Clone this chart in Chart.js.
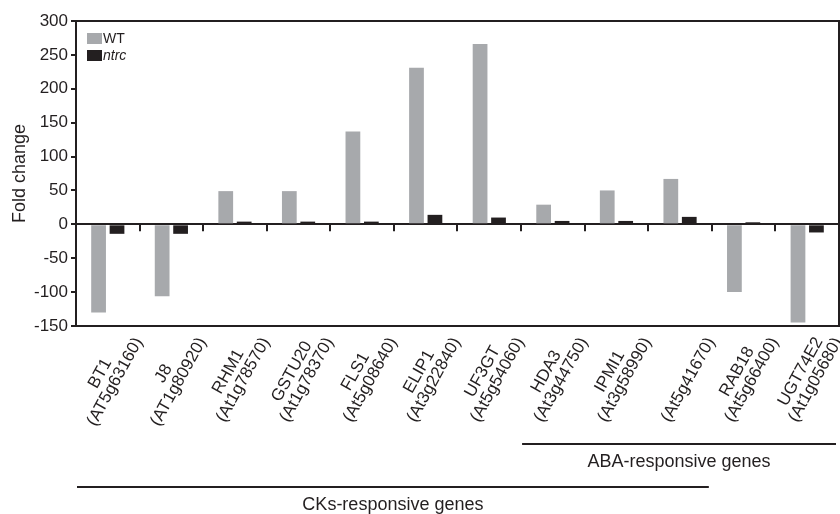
<!DOCTYPE html>
<html>
<head>
<meta charset="utf-8">
<script src="https://cdn.jsdelivr.net/npm/chart.js@4.4.1/dist/chart.umd.min.js"></script>
<style>
  html, body { margin: 0; padding: 0; background: #fff; }
  #wrap { width: 840px; height: 514px; }
</style>
</head>
<body>
<div id="wrap"><canvas id="myChart"></canvas></div>
<script>
var geneNames = ["BT1", "J8", "RHM1", "GSTU20", "FLS1", "ELIP1", "UF3GT", "HDA3", "IPMI1", "", "RAB18", "UGT74E2"];
var geneIds = ["(AT5g63160)", "(AT1g80920)", "(At1g78570)", "(At1g78370)", "(At5g08640)", "(At3g22840)",
               "(At5g54060)", "(At3g44750)", "(At3g58990)", "(At5g41670)", "(At5g66400)", "(At1g05680)"];
var wtValues = [-130, -106, 49, 49, 137, 231, 266, 29, 50, 67, -100, -145];
var ntrcValues = [-14, -14, 4, 4, 4, 14, 10, 5, 5, 11, 3, -12];
var seriesNames = ["WT", "ntrc"];
var groupNames = ["ABA-responsive genes", "CKs-responsive genes"];
var groupFrom = [7, 0];
var groupTo = [11, 9];

var dark = "#231f20";
var gray = "#a7a9ac";
var fam = "'Liberation Sans', Arial, sans-serif";
Chart.defaults.font.family = fam;
Chart.defaults.color = dark;

// frame, zero-line ticks, legend, rotated gene labels and group brackets
var extras = {
  id: "extras",
  afterDraw: function (chart) {
    var ctx = chart.ctx, a = chart.chartArea;
    var x = chart.scales.x, y = chart.scales.y;
    var n = chart.data.labels.length;
    var step = x.getPixelForValue(1) - x.getPixelForValue(0);
    ctx.save();
    ctx.strokeStyle = dark;
    ctx.lineWidth = 2;
    ctx.strokeRect(a.left, a.top, a.right - a.left, a.bottom - a.top);

    var y0 = y.getPixelForValue(0);
    ctx.beginPath();
    for (var i = 1; i < n; i++) {
      var bx = Math.round(x.getPixelForValue(i) - step / 2);
      ctx.moveTo(bx, y0);
      ctx.lineTo(bx, y0 + 7);
    }
    ctx.stroke();

    // legend
    chart.data.datasets.forEach(function (ds, k) {
      var ly = a.top + 12 + k * 17;
      ctx.fillStyle = ds.backgroundColor;
      ctx.fillRect(a.left + 11, ly, 15, 11);
      ctx.fillStyle = dark;
      ctx.font = (k === 1 ? "italic " : "") + "14px " + fam;
      ctx.textAlign = "left";
      ctx.textBaseline = "middle";
      ctx.fillText(ds.label, a.left + 27, ly + 6);
    });

    // gene labels
    ctx.font = "17px " + fam;
    ctx.textBaseline = "middle";
    for (var j = 0; j < n; j++) {
      var lab = chart.data.labels[j];
      var cx = x.getPixelForValue(j);
      ctx.save();
      ctx.translate(cx + 31, a.bottom + 13);
      ctx.rotate(-61 * Math.PI / 180);
      var w2 = ctx.measureText(lab[1]).width;
      ctx.textAlign = "right";
      ctx.fillText(lab[1], 0, 0);
      ctx.textAlign = "center";
      ctx.fillText(lab[0], -w2 / 2, -17);
      ctx.restore();
    }

    // group brackets
    var offs = [118, 161];
    ctx.font = "18px " + fam;
    ctx.textAlign = "center";
    for (var g = 0; g < groupNames.length; g++) {
      var x1 = x.getPixelForValue(groupFrom[g]) - step / 2 + 1;
      var x2 = x.getPixelForValue(groupTo[g]) + step / 2 - 3;
      var gy = a.bottom + offs[g];
      ctx.beginPath();
      ctx.moveTo(x1, gy);
      ctx.lineTo(x2, gy);
      ctx.stroke();
      ctx.fillText(groupNames[g], (x1 + x2) / 2, gy + 18);
    }
    ctx.restore();
  }
};

new Chart("myChart", {
  type: "bar",
  data: {
    labels: geneNames.map(function (nm, i) { return [nm, geneIds[i]]; }),
    datasets: [{
      label: seriesNames[0],
      data: wtValues,
      backgroundColor: gray,
      categoryPercentage: 0.58,
      barPercentage: 0.8
    }, {
      label: seriesNames[1],
      data: ntrcValues,
      backgroundColor: dark,
      categoryPercentage: 0.58,
      barPercentage: 0.8
    }]
  },
  options: {
    responsive: true,
    maintainAspectRatio: false,
    animation: false,
    layout: {padding: {left: 0, right: 1, top: 21, bottom: 188}},
    plugins: {legend: {display: false}, tooltip: {enabled: false}},
    scales: {
      x: {
        grid: {display: false},
        ticks: {display: false},
        border: {color: dark, width: 2},
        afterFit: function (s) { s.height = 0; }
      },
      y: {
        min: -150,
        max: 300,
        ticks: {stepSize: 50, color: dark, padding: 3, font: {size: 17}},
        grid: {
          color: function (c) { return c.tick && c.tick.value === 0 ? dark : "rgba(0,0,0,0)"; },
          tickColor: dark,
          lineWidth: 2,
          tickLength: 5
        },
        border: {color: dark, width: 2},
        title: {display: true, text: "Fold change", color: dark, font: {size: 18}, padding: {top: 9, bottom: 0}},
        afterFit: function (s) { s.width = 76; }
      }
    }
  },
  plugins: [extras]
});
</script>
</body>
</html>
